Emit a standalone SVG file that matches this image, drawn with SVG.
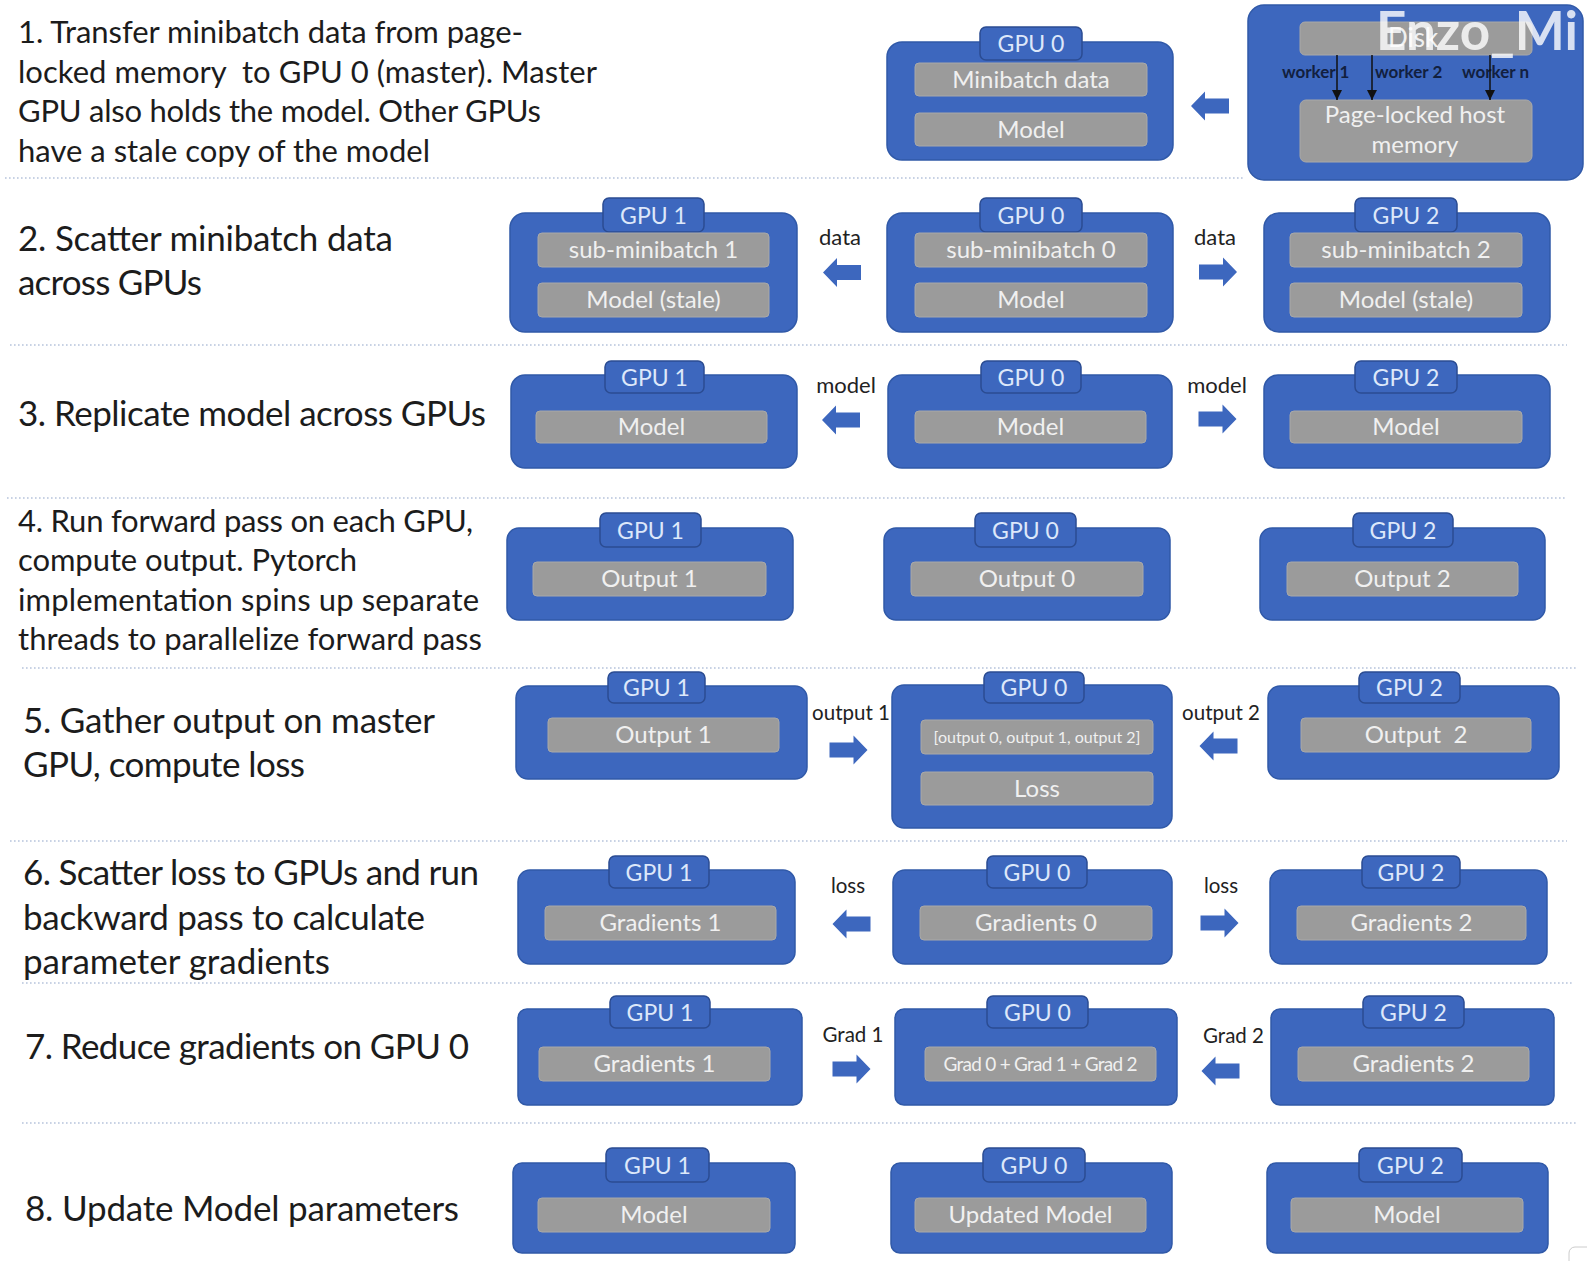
<svg xmlns="http://www.w3.org/2000/svg" width="1587" height="1261" viewBox="0 0 1587 1261">
<style>
.bg{fill:#ffffff}
.box{fill:#3d67be;stroke:#3059a8;stroke-width:1.5}
.tab{fill:#3d67be;stroke:#2b4c92;stroke-width:1.5}
.item{fill:#9b9b9b;stroke:#a9a9a9;stroke-width:1}
.tabt{font-family:Lato,"Liberation Sans",sans-serif;font-size:23px;fill:#dde8fa;text-anchor:middle}
.itemt{font-family:Lato,"Liberation Sans",sans-serif;font-size:24px;fill:#f0f0f0;text-anchor:middle}
.small{font-size:16px}
.step{font-family:Lato,"Liberation Sans",sans-serif;fill:#1c1c1c}
.s1{font-size:31px}
.s2{font-size:35px}
.lbl{font-family:Lato,"Liberation Sans",sans-serif;font-size:22px;fill:#222222;text-anchor:middle}
.lbl2{font-size:20.5px}
.arrow{fill:#3d67be}
.dots{stroke:#b6c3dc;stroke-width:1.6;stroke-dasharray:1.6 2.4;fill:none}
.wk{font-family:Lato,"Liberation Sans",sans-serif;font-size:17px;fill:#12203f;font-weight:bold}
.wline{stroke:#111111;stroke-width:1.5;fill:none}
.wm{font-family:Lato,"Liberation Sans",sans-serif;font-size:53px;font-weight:bold;fill:#ffffff;fill-opacity:0.8}
</style>
<defs>
<path id="arr" d="M-19,-7.5 H5 V-14.5 L19,0 L5,14.5 V7.5 H-19 Z"/>
<marker id="ah" markerUnits="userSpaceOnUse" markerWidth="10" markerHeight="12" refX="10" refY="5" orient="auto">
<path d="M0,0 L10,5 L0,10 Z" fill="#111111"/>
</marker>
</defs>
<rect class="bg" x="0" y="0" width="1587" height="1261"/>

<g id="separators">
<line class="dots" x1="5" y1="178" x2="1245" y2="178"/>
<line class="dots" x1="10" y1="345" x2="1567" y2="345"/>
<line class="dots" x1="7" y1="498" x2="1567" y2="498"/>
<line class="dots" x1="22" y1="668" x2="1578" y2="668"/>
<line class="dots" x1="10" y1="841" x2="1567" y2="841"/>
<line class="dots" x1="22" y1="983" x2="1572" y2="983"/>
<line class="dots" x1="22" y1="1123" x2="1577" y2="1123"/>
</g>

<g id="steps" class="step">
<text class="s1" x="18" y="43" textLength="505">1. Transfer minibatch data from page-</text>
<text class="s1" x="18" y="83" textLength="579" xml:space="preserve">locked memory  to GPU 0 (master). Master</text>
<text class="s1" x="18" y="122" textLength="523">GPU also holds the model. Other GPUs</text>
<text class="s1" x="18" y="162" textLength="412">have a stale copy of the model</text>
<text class="s2" x="18" y="251" textLength="375">2. Scatter minibatch data</text>
<text class="s2" x="18" y="295" textLength="184">across GPUs</text>
<text class="s2" x="18" y="426" textLength="468">3. Replicate model across GPUs</text>
<text class="s1" x="18" y="532" textLength="455">4. Run forward pass on each GPU,</text>
<text class="s1" x="18" y="571" textLength="339">compute output. Pytorch</text>
<text class="s1" x="18" y="611" textLength="461">implementation spins up separate</text>
<text class="s1" x="18" y="650" textLength="464">threads to parallelize forward pass</text>
<text class="s2" x="23" y="733" textLength="412">5. Gather output on master</text>
<text class="s2" x="23" y="777" textLength="282">GPU, compute loss</text>
<text class="s2" x="23" y="885" textLength="456">6. Scatter loss to GPUs and run</text>
<text class="s2" x="23" y="930" textLength="402">backward pass to calculate</text>
<text class="s2" x="23" y="974" textLength="307">parameter gradients</text>
<text class="s2" x="25" y="1059" textLength="444">7. Reduce gradients on GPU 0</text>
<text class="s2" x="25" y="1221" textLength="434">8. Update Model parameters</text>
</g>

<!-- Row 1 -->
<g id="r1-gpu0">
<rect class="box" x="887" y="42" width="286" height="118" rx="15"/>
<rect class="tab" x="980" y="27" width="102" height="33" rx="6"/>
<text class="tabt" x="1031" y="52">GPU 0</text>
<rect class="item" x="915" y="63" width="232" height="33" rx="4"/>
<text class="itemt" x="1031" y="88">Minibatch data</text>
<rect class="item" x="915" y="113" width="232" height="33" rx="4"/>
<text class="itemt" x="1031" y="138">Model</text>
</g>
<g id="r1-host">
<rect class="box" x="1248" y="5" width="335" height="175" rx="16"/>
<rect class="item" x="1300" y="22" width="232" height="33" rx="5"/>
<text class="itemt" x="1413" y="47" style="font-size:26px">Disk</text>
<rect class="item" x="1300" y="100" width="232" height="62" rx="6"/>
<text class="itemt" x="1415" y="123">Page-locked host</text>
<text class="itemt" x="1415" y="153">memory</text>
<text class="wk" x="1282" y="78">worker 1</text>
<text class="wk" x="1375" y="78">worker 2</text>
<text class="wk" x="1462" y="78">worker n</text>
</g>

<!-- Row 2 -->
<g id="r2-gpu1">
<rect class="box" x="510" y="213" width="287" height="119" rx="15"/>
<rect class="tab" x="603" y="198" width="101" height="34" rx="6"/>
<text class="tabt" x="653.5" y="223.5">GPU 1</text>
<rect class="item" x="538" y="233" width="231" height="34" rx="4"/>
<text class="itemt" x="653.5" y="258">sub-minibatch 1</text>
<rect class="item" x="538" y="283" width="231" height="34" rx="4"/>
<text class="itemt" x="653.5" y="308">Model (stale)</text>
</g>
<g id="r2-gpu0">
<rect class="box" x="887" y="213" width="286" height="119" rx="15"/>
<rect class="tab" x="980" y="198" width="102" height="34" rx="6"/>
<text class="tabt" x="1031" y="223.5">GPU 0</text>
<rect class="item" x="915" y="233" width="232" height="34" rx="4"/>
<text class="itemt" x="1031" y="258">sub-minibatch 0</text>
<rect class="item" x="915" y="283" width="232" height="34" rx="4"/>
<text class="itemt" x="1031" y="308">Model</text>
</g>
<g id="r2-gpu2">
<rect class="box" x="1264" y="213" width="286" height="119" rx="15"/>
<rect class="tab" x="1355" y="198" width="102" height="34" rx="6"/>
<text class="tabt" x="1406" y="223.5">GPU 2</text>
<rect class="item" x="1290" y="233" width="232" height="34" rx="4"/>
<text class="itemt" x="1406" y="258">sub-minibatch 2</text>
<rect class="item" x="1290" y="283" width="232" height="34" rx="4"/>
<text class="itemt" x="1406" y="308">Model (stale)</text>
</g>

<!-- Row 3 -->
<g id="r3-gpu1">
<rect class="box" x="511" y="375" width="286" height="93" rx="14"/>
<rect class="tab" x="605" y="361" width="99" height="32" rx="6"/>
<text class="tabt" x="654.5" y="385.5">GPU 1</text>
<rect class="item" x="536" y="411" width="231" height="32" rx="4"/>
<text class="itemt" x="651.5" y="435">Model</text>
</g>
<g id="r3-gpu0">
<rect class="box" x="888" y="375" width="284" height="93" rx="14"/>
<rect class="tab" x="981" y="361" width="100" height="32" rx="6"/>
<text class="tabt" x="1031" y="385.5">GPU 0</text>
<rect class="item" x="915" y="411" width="231" height="32" rx="4"/>
<text class="itemt" x="1030.5" y="435">Model</text>
</g>
<g id="r3-gpu2">
<rect class="box" x="1264" y="375" width="286" height="93" rx="14"/>
<rect class="tab" x="1355" y="361" width="102" height="32" rx="6"/>
<text class="tabt" x="1406" y="385.5">GPU 2</text>
<rect class="item" x="1290" y="411" width="232" height="32" rx="4"/>
<text class="itemt" x="1406" y="435">Model</text>
</g>

<!-- Row 4 -->
<g id="r4-gpu1">
<rect class="box" x="507" y="528" width="286" height="92" rx="12"/>
<rect class="tab" x="600" y="513" width="101" height="34" rx="6"/>
<text class="tabt" x="650.5" y="538.5">GPU 1</text>
<rect class="item" x="533" y="562" width="233" height="34" rx="4"/>
<text class="itemt" x="649.5" y="587">Output 1</text>
</g>
<g id="r4-gpu0">
<rect class="box" x="884" y="528" width="286" height="92" rx="12"/>
<rect class="tab" x="975" y="513" width="101" height="34" rx="6"/>
<text class="tabt" x="1025.5" y="538.5">GPU 0</text>
<rect class="item" x="911" y="562" width="232" height="34" rx="4"/>
<text class="itemt" x="1027" y="587">Output 0</text>
</g>
<g id="r4-gpu2">
<rect class="box" x="1260" y="528" width="285" height="92" rx="12"/>
<rect class="tab" x="1353" y="513" width="100" height="34" rx="6"/>
<text class="tabt" x="1403" y="538.5">GPU 2</text>
<rect class="item" x="1287" y="562" width="231" height="34" rx="4"/>
<text class="itemt" x="1402.5" y="587">Output 2</text>
</g>

<!-- Row 5 -->
<g id="r5-gpu1">
<rect class="box" x="516" y="686" width="291" height="93" rx="12"/>
<rect class="tab" x="608" y="672" width="97" height="31" rx="6"/>
<text class="tabt" x="656.5" y="696">GPU 1</text>
<rect class="item" x="548" y="718" width="231" height="34" rx="4"/>
<text class="itemt" x="663.5" y="743">Output 1</text>
</g>
<g id="r5-gpu0">
<rect class="box" x="892" y="685" width="280" height="143" rx="12"/>
<rect class="tab" x="984" y="672" width="100" height="31" rx="6"/>
<text class="tabt" x="1034" y="696">GPU 0</text>
<rect class="item" x="921" y="720" width="232" height="34" rx="4"/>
<text class="itemt small" x="1037" y="743">[output 0, output 1, output 2]</text>
<rect class="item" x="921" y="772" width="232" height="33" rx="4"/>
<text class="itemt" x="1037" y="797">Loss</text>
</g>
<g id="r5-gpu2">
<rect class="box" x="1268" y="686" width="291" height="93" rx="12"/>
<rect class="tab" x="1359" y="672" width="101" height="31" rx="6"/>
<text class="tabt" x="1409.5" y="696">GPU 2</text>
<rect class="item" x="1301" y="718" width="230" height="34" rx="4"/>
<text class="itemt" x="1416" y="743" xml:space="preserve">Output  2</text>
</g>

<!-- Row 6 -->
<g id="r6-gpu1">
<rect class="box" x="518" y="870" width="277" height="94" rx="12"/>
<rect class="tab" x="609" y="856" width="100" height="32" rx="6"/>
<text class="tabt" x="659" y="880.5">GPU 1</text>
<rect class="item" x="545" y="906" width="231" height="34" rx="4"/>
<text class="itemt" x="660.5" y="931">Gradients 1</text>
</g>
<g id="r6-gpu0">
<rect class="box" x="893" y="870" width="279" height="94" rx="12"/>
<rect class="tab" x="987" y="856" width="100" height="32" rx="6"/>
<text class="tabt" x="1037" y="880.5">GPU 0</text>
<rect class="item" x="920" y="906" width="232" height="34" rx="4"/>
<text class="itemt" x="1036" y="931">Gradients 0</text>
</g>
<g id="r6-gpu2">
<rect class="box" x="1270" y="870" width="277" height="94" rx="12"/>
<rect class="tab" x="1362" y="856" width="98" height="32" rx="6"/>
<text class="tabt" x="1411" y="880.5">GPU 2</text>
<rect class="item" x="1297" y="906" width="229" height="34" rx="4"/>
<text class="itemt" x="1411.5" y="931">Gradients 2</text>
</g>

<!-- Row 7 -->
<g id="r7-gpu1">
<rect class="box" x="518" y="1009" width="284" height="96" rx="9"/>
<rect class="tab" x="610" y="996" width="100" height="32" rx="6"/>
<text class="tabt" x="660" y="1020.5">GPU 1</text>
<rect class="item" x="539" y="1047" width="231" height="34" rx="4"/>
<text class="itemt" x="654.5" y="1072">Gradients 1</text>
</g>
<g id="r7-gpu0">
<rect class="box" x="895" y="1009" width="282" height="96" rx="9"/>
<rect class="tab" x="987" y="996" width="101" height="32" rx="6"/>
<text class="tabt" x="1037.5" y="1020.5">GPU 0</text>
<rect class="item" x="925" y="1047" width="231" height="34" rx="4"/>
<text class="itemt" x="1040.5" y="1071" style="font-size:19px" textLength="194">Grad 0 + Grad 1 + Grad 2</text>
</g>
<g id="r7-gpu2">
<rect class="box" x="1271" y="1009" width="283" height="96" rx="9"/>
<rect class="tab" x="1363" y="996" width="101" height="32" rx="6"/>
<text class="tabt" x="1413.5" y="1020.5">GPU 2</text>
<rect class="item" x="1298" y="1047" width="231" height="34" rx="4"/>
<text class="itemt" x="1413.5" y="1072">Gradients 2</text>
</g>

<!-- Row 8 -->
<g id="r8-gpu1">
<rect class="box" x="513" y="1163" width="282" height="90" rx="9"/>
<rect class="tab" x="606" y="1148" width="103" height="34" rx="6"/>
<text class="tabt" x="657.5" y="1173.5">GPU 1</text>
<rect class="item" x="538" y="1198" width="232" height="34" rx="4"/>
<text class="itemt" x="654" y="1223">Model</text>
</g>
<g id="r8-gpu0">
<rect class="box" x="891" y="1163" width="281" height="90" rx="9"/>
<rect class="tab" x="983" y="1148" width="102" height="34" rx="6"/>
<text class="tabt" x="1034" y="1173.5">GPU 0</text>
<rect class="item" x="915" y="1198" width="231" height="34" rx="4"/>
<text class="itemt" x="1030.5" y="1223">Updated Model</text>
</g>
<g id="r8-gpu2">
<rect class="box" x="1267" y="1163" width="281" height="90" rx="9"/>
<rect class="tab" x="1359" y="1148" width="103" height="34" rx="6"/>
<text class="tabt" x="1410.5" y="1173.5">GPU 2</text>
<rect class="item" x="1291" y="1198" width="232" height="34" rx="4"/>
<text class="itemt" x="1407" y="1223">Model</text>
</g>

<g id="connectors">
<line class="wline" x1="1337" y1="55" x2="1337" y2="100" marker-end="url(#ah)"/>
<line class="wline" x1="1372" y1="55" x2="1372" y2="100" marker-end="url(#ah)"/>
<line class="wline" x1="1490" y1="55" x2="1490" y2="100" marker-end="url(#ah)"/>
<use href="#arr" class="arrow" transform="translate(1210,106) scale(-1,1)"/>
<use href="#arr" class="arrow" transform="translate(842,272.5) scale(-1,1)"/>
<use href="#arr" class="arrow" transform="translate(1218,272)"/>
<use href="#arr" class="arrow" transform="translate(841,420) scale(-1,1)"/>
<use href="#arr" class="arrow" transform="translate(1217.5,419)"/>
<use href="#arr" class="arrow" transform="translate(848.5,750)"/>
<use href="#arr" class="arrow" transform="translate(1218.5,746) scale(-1,1)"/>
<use href="#arr" class="arrow" transform="translate(851.5,924) scale(-1,1)"/>
<use href="#arr" class="arrow" transform="translate(1219.5,923)"/>
<use href="#arr" class="arrow" transform="translate(851.5,1069)"/>
<use href="#arr" class="arrow" transform="translate(1220.5,1071) scale(-1,1)"/>
<text class="lbl" x="840" y="245">data</text>
<text class="lbl" x="1215" y="245">data</text>
<text class="lbl" x="846" y="393">model</text>
<text class="lbl" x="1217" y="393">model</text>
<text class="lbl lbl2" x="851" y="720">output 1</text>
<text class="lbl lbl2" x="1221" y="720">output 2</text>
<text class="lbl lbl2" x="848" y="893">loss</text>
<text class="lbl lbl2" x="1221" y="893">loss</text>
<text class="lbl lbl2" x="853" y="1042">Grad 1</text>
<text class="lbl lbl2" x="1233.5" y="1043">Grad 2</text>
</g>

<text class="wm" x="1376" y="50">Enzo_Mi</text>
<rect x="1569" y="1247" width="40" height="30" rx="6" fill="#ffffff" stroke="#cccccc" stroke-width="1"/>
</svg>
